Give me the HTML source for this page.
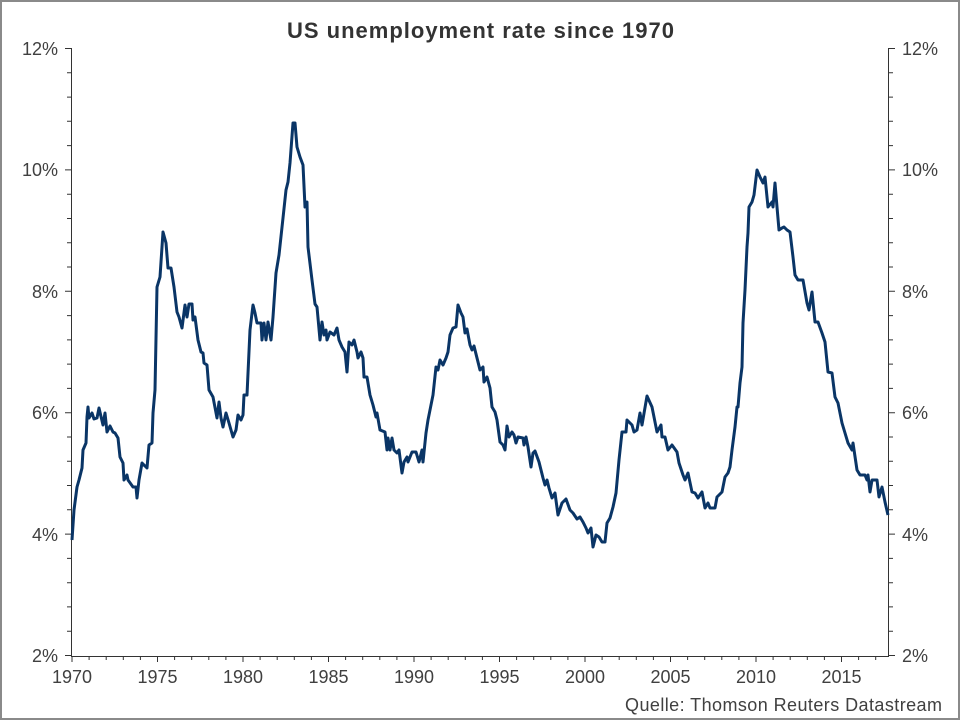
<!DOCTYPE html>
<html><head><meta charset="utf-8"><style>
html,body{margin:0;padding:0;background:#fff;}
svg{display:block;font-family:"Liberation Sans",sans-serif;}
</style></head><body>
<svg width="960" height="720" viewBox="0 0 960 720" xmlns="http://www.w3.org/2000/svg">
<rect x="1" y="1" width="958" height="718" fill="#fff" stroke="#8a8a8a" stroke-width="2"/>
<text x="287" y="38" font-size="22" font-weight="bold" fill="#333" textLength="387" lengthAdjust="spacing">US unemployment rate since 1970</text>
<g stroke="#333" stroke-width="1" fill="none">
<line x1="71.5" y1="48" x2="71.5" y2="656"/>
<line x1="888.5" y1="48" x2="888.5" y2="656"/>
<line x1="71" y1="656.5" x2="889" y2="656.5"/>
<path d="M65 48.5H71M67 72.8H71M67 97.1H71M67 121.3H71M67 145.6H71M65 169.9H71M67 194.2H71M67 218.5H71M67 242.7H71M67 267H71M65 291.3H71M67 315.6H71M67 339.9H71M67 364.1H71M67 388.4H71M65 412.7H71M67 437H71M67 461.3H71M67 485.5H71M67 509.8H71M65 534.1H71M67 558.4H71M67 582.7H71M67 606.9H71M67 631.2H71M65 655.5H71"/>
<path d="M889 48.5H895M889 72.8H893M889 97.1H893M889 121.3H893M889 145.6H893M889 169.9H895M889 194.2H893M889 218.5H893M889 242.7H893M889 267H893M889 291.3H895M889 315.6H893M889 339.9H893M889 364.1H893M889 388.4H893M889 412.7H895M889 437H893M889 461.3H893M889 485.5H893M889 509.8H893M889 534.1H895M889 558.4H893M889 582.7H893M889 606.9H893M889 631.2H893M889 655.5H895"/>
<path d="M72 656V662M89.1 656V660M106.2 656V660M123.3 656V660M140.4 656V660M157.5 656V662M174.6 656V660M191.7 656V660M208.8 656V660M225.9 656V660M243 656V662M260.1 656V660M277.2 656V660M294.3 656V660M311.4 656V660M328.5 656V662M345.6 656V660M362.7 656V660M379.8 656V660M396.9 656V660M414 656V662M431.1 656V660M448.2 656V660M465.3 656V660M482.4 656V660M499.5 656V662M516.6 656V660M533.7 656V660M550.8 656V660M567.9 656V660M585 656V662M602.1 656V660M619.2 656V660M636.3 656V660M653.4 656V660M670.5 656V662M687.6 656V660M704.7 656V660M721.8 656V660M738.9 656V660M756 656V662M773.1 656V660M790.2 656V660M807.3 656V660M824.4 656V660M841.5 656V662M858.6 656V660M875.7 656V660"/>
</g>
<g font-size="18" fill="#404040">
<text x="58" y="55" text-anchor="end">12%</text>
<text x="58" y="176" text-anchor="end">10%</text>
<text x="58" y="298" text-anchor="end">8%</text>
<text x="58" y="419" text-anchor="end">6%</text>
<text x="58" y="541" text-anchor="end">4%</text>
<text x="58" y="662" text-anchor="end">2%</text>
<text x="902" y="55">12%</text>
<text x="902" y="176">10%</text>
<text x="902" y="298">8%</text>
<text x="902" y="419">6%</text>
<text x="902" y="541">4%</text>
<text x="902" y="662">2%</text>
<text x="72" y="683" text-anchor="middle">1970</text>
<text x="157.5" y="683" text-anchor="middle">1975</text>
<text x="243" y="683" text-anchor="middle">1980</text>
<text x="328.5" y="683" text-anchor="middle">1985</text>
<text x="414" y="683" text-anchor="middle">1990</text>
<text x="499.5" y="683" text-anchor="middle">1995</text>
<text x="585" y="683" text-anchor="middle">2000</text>
<text x="670.5" y="683" text-anchor="middle">2005</text>
<text x="756" y="683" text-anchor="middle">2010</text>
<text x="841.5" y="683" text-anchor="middle">2015</text>
<text x="625" y="711" textLength="317" lengthAdjust="spacing">Quelle: Thomson Reuters Datastream</text>
</g>
<polyline fill="none" stroke="#0a3566" stroke-width="3" stroke-linejoin="round" points="
72,540 74,510 77,487 79,480 82,468 83,450 86,443 87,417 88,407 89,418 92,413 94,419 97,418 99,408 103,425 105,413 107,432 110,426 113,432 115,433 118,438 120,457 123,463 124,480 127,475 128,480 133,487 136,487 137,498 139,480 142,463 147,468 149,445 152,443 153,413 155,390 157,287 160,277 163,232 166,243 168,268 171,268 174,287 177,312 179,317 182,328 185,305 187,317 189,304 192,304 193,320 195,317 198,340 201,352 203,353 204,363 207,365 209,390 213,397 217,418 219,402 221,418 223,427 226,413 229,423 233,437 236,430 238,415 241,420 243,415 244,395 247,395 250,330 253,305 255,313 257,323 261,323 262,340 264,323 266,340 268,322 271,340 273,317 276,273 279,255 283,218 286,190 288,182 290,163 293,123 295,123 297,147 300,157 303,165 305,207 307,202 308,247 312,280 315,304 317,307 320,340 322,322 324,335 326,330 327,340 330,332 334,335 337,328 339,340
342,347 345,352 347,372 349,342 352,345 354,340 357,352 358,358 361,352 363,358 364,377 367,377 370,395 373,405 376,417 377,413 380,430 385,432 387,450 388,438 390,450 392,438 394,450 397,453 399,450 402,473 404,462 407,457 408,462 412,452 416,452 419,462 422,450 423,462 426,433 428,420 433,395 436,367 438,370 440,360 443,365 446,358 448,352 450,335 453,328 456,327 458,305 461,313 463,317 465,333 467,329 470,345 472,350 474,346 477,358 480,370 483,367 484,382 487,377 490,388 492,407 495,412 497,420 500,442 503,445 505,450 507,426 509,437 512,432 514,435 516,443 518,437 523,438 524,445 526,437 528,447 531,467 533,453 535,451 539,462 543,478 545,485 547,480 549,488 552,498 555,493 558,515 562,503 566,499 570,510 573,513 577,519 580,517 583,522 586,528 588,533 591,528 593,547 596,535 599,537 602,542 605,542 607,523 610,518 613,507 616,493 619,460 622,432 626,432 627,420 632,425 634,432 637,430 640,413
642,425 647,396 652,407 657,432 661,425 662,437 665,437 668,450 672,445 677,452 679,463 683,475 685,480 688,473 692,492 695,493 698,498 702,492 705,508 708,503 710,508 715,508 717,497 722,492 725,477 728,473 730,467 732,450 735,427 737,407 738,407 740,383 742,367 743,323 745,290 747,247 748,233 749,207 752,202 754,195 757,170 760,177 763,183 765,177 768,207 772,202 773,207 775,183 777,207 779,230 782,228 784,227 787,230 790,232 793,257 795,275 798,280 803,280 807,303 809,310 812,292 815,322 818,322 822,333 825,342 828,372 832,373 835,397 838,403 842,423 845,433 848,443 852,450 853,443 857,470 860,475 865,475 867,480 868,475 870,492 872,480 877,480 879,497 882,487 885,502 888,515"/>
</svg>
</body></html>
